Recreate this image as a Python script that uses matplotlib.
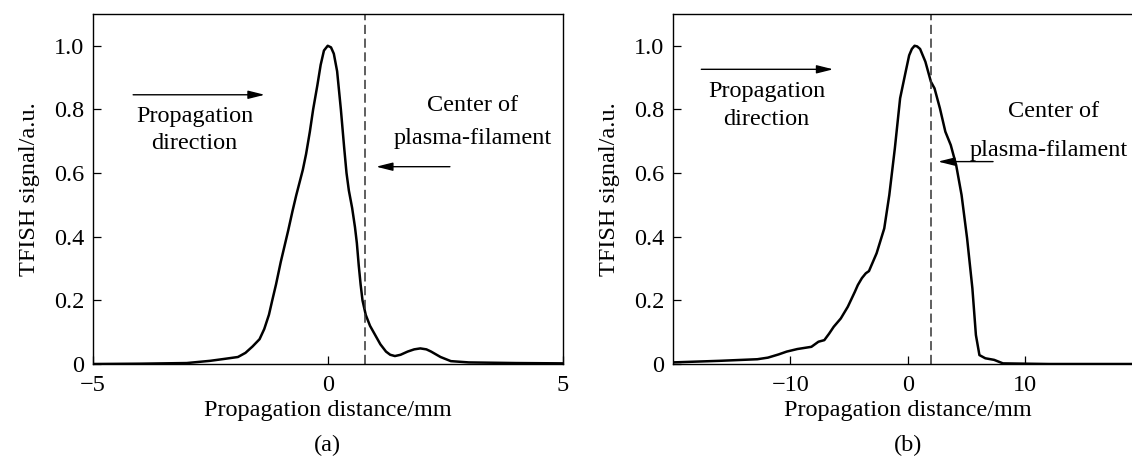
import matplotlib
matplotlib.use("Agg")
import matplotlib.pyplot as plt

plt.rcParams['font.family'] = ['Liberation Serif', 'DejaVu Serif']
plt.rcParams['font.size'] = 17.5
plt.rcParams['axes.unicode_minus'] = True

# panel (a): TFISH signal vs propagation distance
xa = [-5.0, -4.0, -3.0, -2.5, -2.2, -1.91, -1.75, -1.6, -1.45, -1.35, -1.25, -1.18,
      -1.1, -1.0, -0.92, -0.84, -0.75, -0.67, -0.6, -0.53, -0.46, -0.38, -0.31, -0.22,
      -0.15, -0.08, 0.0, 0.07, 0.13, 0.2, 0.28, 0.35, 0.4, 0.45, 0.52, 0.58, 0.62,
      0.66, 0.7, 0.74, 0.81, 0.9, 1.01, 1.12, 1.24, 1.33, 1.43, 1.55, 1.7, 1.84,
      1.97, 2.1, 2.2, 2.4, 2.62, 3.0, 4.0, 5.0]
ya = [0.0, 0.001, 0.003, 0.01, 0.016, 0.022, 0.035, 0.055, 0.078, 0.11, 0.155, 0.2,
      0.25, 0.32, 0.37, 0.42, 0.48, 0.53, 0.57, 0.61, 0.66, 0.73, 0.80, 0.876,
      0.94, 0.985, 1.0, 0.995, 0.975, 0.92, 0.8, 0.68, 0.6, 0.545, 0.49, 0.43, 0.38,
      0.31, 0.25, 0.2, 0.154, 0.12, 0.091, 0.062, 0.039, 0.029, 0.025, 0.029, 0.039, 0.046,
      0.049, 0.046, 0.039, 0.022, 0.009, 0.005, 0.003, 0.002]
filament_a = 0.8

# panel (b)
xb = [-20.0, -16.0, -12.8, -11.9, -11.0, -10.3, -9.4, -8.2, -7.6, -7.1, -6.7, -6.3,
      -5.7, -5.1, -4.5, -4.25, -3.9, -3.57, -3.3, -2.65, -2.0, -1.57, -1.1, -0.65,
      -0.18, 0.12, 0.35, 0.58, 0.8, 1.05, 1.5, 1.97, 2.28, 2.74, 3.2, 3.66, 4.12, 4.58,
      5.05, 5.5, 5.8, 6.1, 6.6, 7.35, 8.1, 12.0, 20.0]
yb = [0.005, 0.01, 0.015, 0.02, 0.03, 0.039, 0.047, 0.054, 0.07, 0.075, 0.095, 0.117,
      0.143, 0.18, 0.227, 0.248, 0.27, 0.285, 0.292, 0.348, 0.426, 0.531, 0.677, 0.835,
      0.918, 0.97, 0.99, 1.0, 0.998, 0.99, 0.95, 0.887, 0.866, 0.803, 0.73, 0.688, 0.625,
      0.531, 0.395, 0.238, 0.091, 0.028, 0.018, 0.013, 0.002, 0.0, 0.0]
filament_b = 2.0

yticks = [0, 0.2, 0.4, 0.6, 0.8, 1.0]
ytick_labels = ['0', '0.2', '0.4', '0.6', '0.8', '1.0']

fig = plt.figure(figsize=(11.32, 4.57), dpi=100)
ax1 = fig.add_axes([0.0819, 0.2035, 0.4152, 0.766])
ax2 = fig.add_axes([0.5943, 0.2035, 0.4152, 0.766])


def style_axes(ax, xlim, xticks, letter):
    ax.set_xlim(*xlim)
    ax.set_ylim(0, 1.1)
    ax.set_xticks(xticks)
    ax.set_yticks(yticks)
    ax.set_yticklabels(ytick_labels)
    ax.tick_params(direction='in', length=5.5, width=0.9, top=False, right=False)
    ax.tick_params(axis='x', pad=8)
    ax.tick_params(axis='y', pad=6)
    for s in ax.spines.values():
        s.set_linewidth(1.0)
    ax.set_ylabel('TFISH signal/a.u.', labelpad=10)
    ax.set_xlabel('Propagation distance/mm', labelpad=3)
    ax.text(0.5, -0.232, letter, transform=ax.transAxes, ha='center', va='center')


def arrow(ax, tail, head):
    ax.annotate('', xy=head, xytext=tail,
                arrowprops=dict(arrowstyle='-|>,head_length=1.0,head_width=0.25',
                                color='black', lw=1.0, shrinkA=0, shrinkB=0,
                                mutation_scale=10))


ax1.plot(xa, ya, color='black', lw=1.8)
ax1.axvline(filament_a, color='#333333', lw=1.1, linestyle=(0, (6, 3)))
style_axes(ax1, (-5, 5), [-5, 0, 5], '(a)')
arrow(ax1, (-4.14, 0.846), (-1.34, 0.846))
ax1.text(-2.83, 0.777, 'Propagation', ha='center', va='center')
ax1.text(-2.83, 0.693, 'direction', ha='center', va='center')
ax1.text(3.08, 0.812, 'Center of', ha='center', va='center')
ax1.text(3.08, 0.71, 'plasma-filament', ha='center', va='center')
arrow(ax1, (2.6, 0.62), (1.03, 0.62))

ax2.plot(xb, yb, color='black', lw=1.8)
ax2.axvline(filament_b, color='#333333', lw=1.1, linestyle=(0, (6, 3)))
style_axes(ax2, (-20, 20), [-10, 0, 10], '(b)')
arrow(ax2, (-17.57, 0.926), (-6.34, 0.926))
ax2.text(-12.0, 0.855, 'Propagation', ha='center', va='center')
ax2.text(-12.0, 0.768, 'direction', ha='center', va='center')
ax2.text(12.4, 0.795, 'Center of', ha='center', va='center')
ax2.text(12.0, 0.672, 'plasma-filament', ha='center', va='center')
arrow(ax2, (7.26, 0.636), (2.58, 0.636))

fig.savefig('out.png', dpi=100)
